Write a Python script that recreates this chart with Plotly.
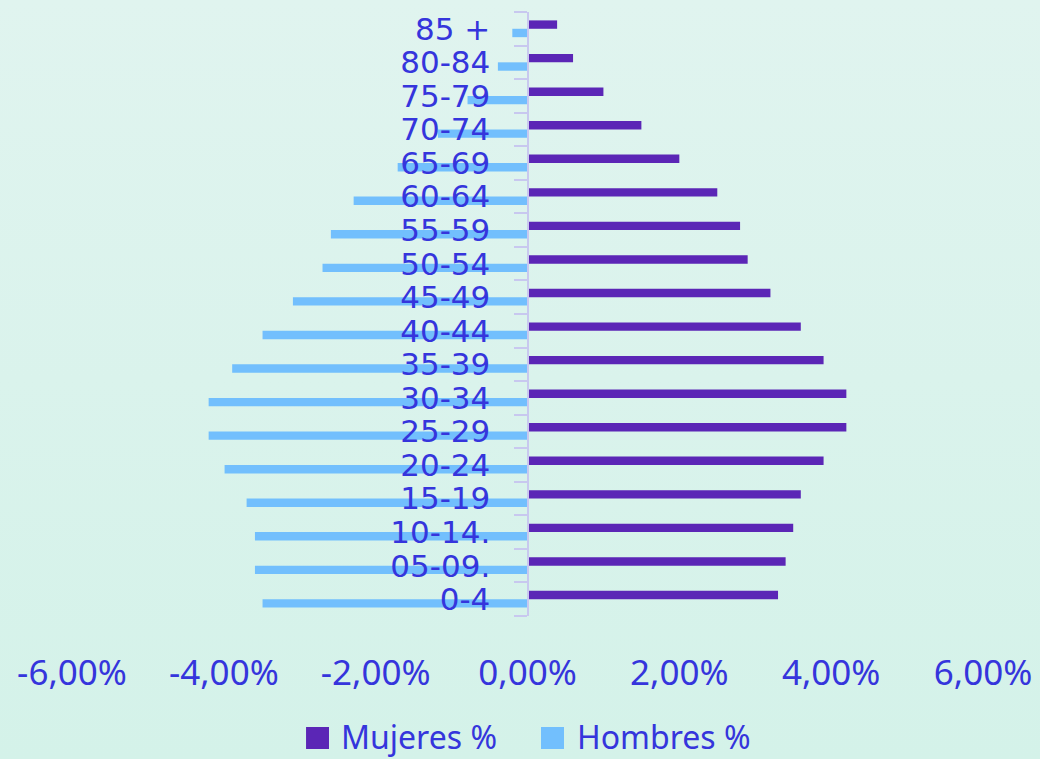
import plotly.graph_objects as go

categories = ["0-4", "05-09.", "10-14.", "15-19", "20-24", "25-29", "30-34", "35-39",
              "40-44", "45-49", "50-54", "55-59", "60-64", "65-69", "70-74", "75-79",
              "80-84", "85 +"]
mujeres = [3.3, 3.4, 3.5, 3.6, 3.9, 4.2, 4.2, 3.9, 3.6, 3.2, 2.9, 2.8, 2.5, 2.0, 1.5, 1.0, 0.6, 0.39]
hombres = [-3.49, -3.59, -3.59, -3.7, -3.99, -4.2, -4.2, -3.89, -3.49, -3.09, -2.7, -2.59,
           -2.29, -1.71, -1.18, -0.79, -0.39, -0.2]
series_names = ["Mujeres %", "Hombres %"]
x_ticks = [-6, -4, -2, 0, 2, 4, 6]
x_tick_labels = ["-6,00%", "-4,00%", "-2,00%", "0,00%", "2,00%", "4,00%", "6,00%"]

FONT = "Noto Sans"
TEXT = "#3535dc"
C_MUJ = "#5b26b6"
C_HOM = "#72bffd"
colors = [C_MUJ, C_HOM]

fig = go.Figure()
fig.add_trace(go.Bar(y=categories, x=hombres, orientation="h", name=series_names[1],
                     marker=dict(color=C_HOM, line=dict(width=0)), showlegend=False))
fig.add_trace(go.Bar(y=categories, x=mujeres, orientation="h", name=series_names[0],
                     marker=dict(color=C_MUJ, line=dict(width=0)), showlegend=False))

# custom legend (square swatches + labels) below the axis
swatch_x = [(0.2569, 0.2821), (0.5148, 0.5401)]
text_x = [0.2942, 0.5533]
for name, col, (x0, x1), tx in zip(series_names, colors, swatch_x, text_x):
    fig.add_shape(type="rect", xref="paper", yref="paper", x0=x0, x1=x1, y0=-0.2202, y1=-0.1838,
                  fillcolor=col, line=dict(width=0))
    fig.add_annotation(xref="paper", yref="paper", x=tx, y=-0.2003, xanchor="left", yanchor="middle",
                       text=name, showarrow=False, borderpad=0,
                       font=dict(size=32, family=FONT, color=TEXT))

fig.update_layout(
    width=1040, height=759,
    barmode="group", bargap=0.5, bargroupgap=0,
    paper_bgcolor="rgba(0,0,0,0)", plot_bgcolor="rgba(0,0,0,0)",
    margin=dict(l=72, r=57, t=12, b=143, autoexpand=False),
    font=dict(family=FONT, color=TEXT),
    showlegend=False,
    xaxis=dict(range=[-6, 6], tickvals=x_ticks, ticktext=x_tick_labels,
               showgrid=False, zeroline=False, showline=False, ticks="",
               tickfont=dict(size=35, family=FONT, color=TEXT),
               ticklabelstandoff=33, automargin=False),
    yaxis=dict(anchor="free", position=0.5, showline=True, linecolor="#c8c8ef", linewidth=2,
               ticks="outside", ticklen=13, tickcolor="#c8c8ef", tickwidth=2,
               tickson="boundaries", showgrid=False, zeroline=False,
               tickmode="array", tickvals=categories, ticktext=categories,
               tickfont=dict(size=31, family="DejaVu Sans", color=TEXT),
               ticklabelstandoff=30, automargin=False),
)

fig.write_html("out.html", config={"displayModeBar": False},
               post_script="document.body.style.margin='0';"
                           "document.body.style.background='linear-gradient(180deg,#e0f4ef 0%,#d4f2e9 100%)';"
                           "document.body.style.minHeight='759px';")
